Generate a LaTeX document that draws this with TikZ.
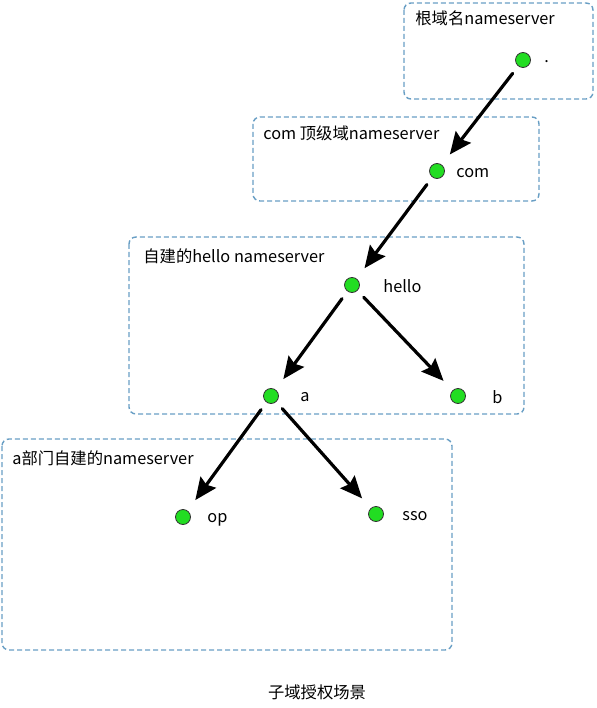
\documentclass[tikz,border=0pt]{standalone}
\usepackage{fontspec}
\setmainfont{Noto Sans CJK SC}
\usetikzlibrary{arrows.meta}
\definecolor{kuangse}{RGB}{104,158,196}
\definecolor{lvse}{RGB}{34,221,34}
\begin{document}
\begin{tikzpicture}[x=1pt,y=-1pt,thick,line cap=round]
	\tikzstyle{kuang}=[draw=kuangse,line width=1.4pt,dash pattern=on 5pt off 3pt,line cap=butt,rounded corners=7pt];
	\tikzstyle{dian}=[circle,draw=black!80,fill=lvse,line width=0.8pt,minimum size=15pt,inner sep=0pt];
	\tikzstyle{zi}=[anchor=west,inner sep=0pt,font=\fontsize{16.3}{19}\selectfont];
	\tikzstyle{jiantou}=[line width=3.2pt,-{Stealth[length=22pt,width=19pt,inset=3pt]},shorten <=9pt,shorten >=13pt];
	\useasboundingbox (0,0) rectangle (596,708);

	\draw[kuang] (404,3)   rectangle (593,99);
	\draw[kuang] (253,117) rectangle (539,201);
	\draw[kuang] (129,237) rectangle (524,414);
	\draw[kuang] (2,439)   rectangle (452,650);
	\node[zi] (t1) at (415,18)  {根域名nameserver};
	\node[zi] (t2) at (263,133) {com 顶级域nameserver};
	\node[zi] (t3) at (143,256) {自建的hello nameserver};
	\node[zi] (t4) at (12,458)  {a部门自建的nameserver};

	\node[dian] (root)  at (523,60)  {};
	\node[dian] (com)   at (437,171) {};
	\node[dian] (hello) at (352,285) {};
	\node[dian] (a)     at (271,396) {};
	\node[dian] (b)     at (458,396) {};
	\node[dian] (op)    at (183,517) {};
	\node[dian] (sso)   at (376,514) {};
	\node[zi] (lroot)  at (544,62)  {.};
	\node[zi] (lcom)   at (456,173) {com};
	\node[zi] (lhello) at (383,286) {hello};
	\node[zi] (la)     at (300,397) {a};
	\node[zi] (lb)     at (492,397) {b};
	\node[zi] (lop)    at (207,520) {op};
	\node[zi] (lsso)   at (402,516) {sso};

	\draw[jiantou] (root)  -- (com);
	\draw[jiantou] (com)   -- (hello);
	\draw[jiantou] (hello) -- (a);
	\draw[jiantou] (hello) -- (b);
	\draw[jiantou] (a)     -- (op);
	\draw[jiantou] (a)     -- (sso);

	\node[zi,anchor=center] (biaoti) at (317,692) {子域授权场景};
\end{tikzpicture}
\end{document}
